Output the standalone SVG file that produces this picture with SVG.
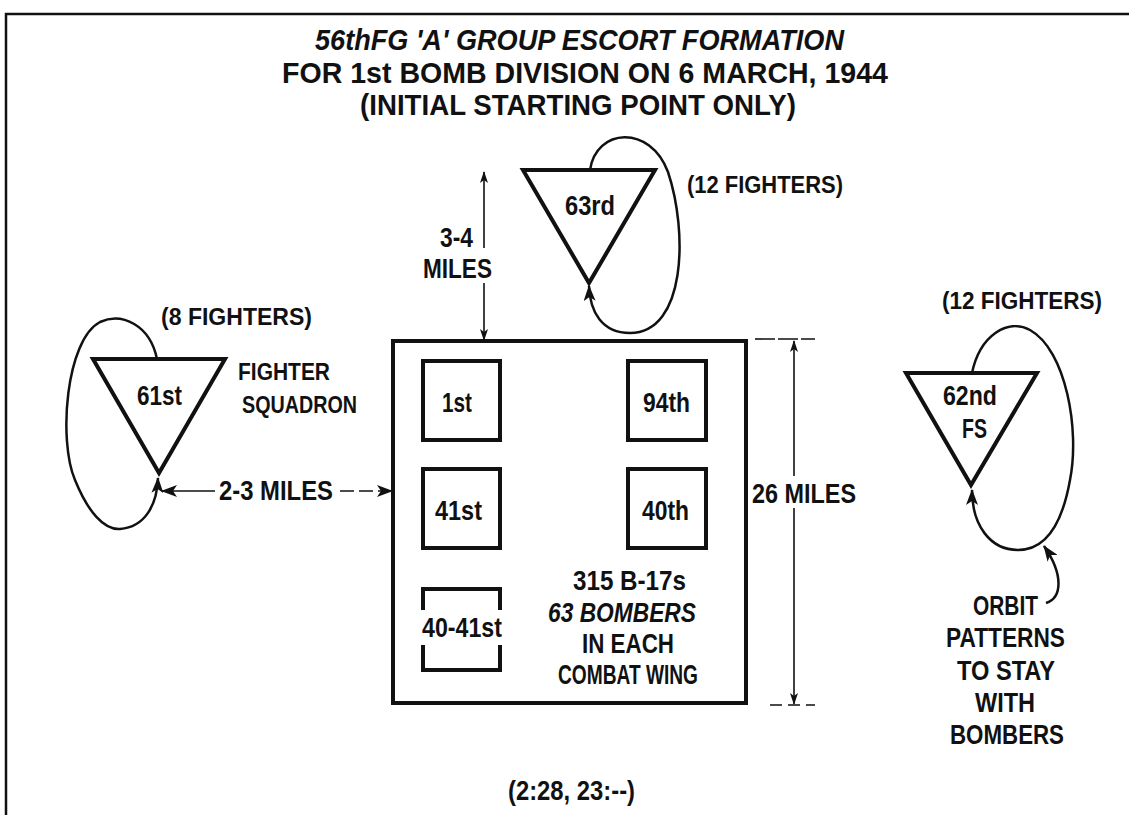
<svg xmlns="http://www.w3.org/2000/svg" width="1129" height="815" viewBox="0 0 1129 815">
<style>
text{font-family:"Liberation Sans Narrow","Liberation Sans",Arial,sans-serif;font-weight:700;fill:#111}
.t{font-size:30px}
.l{font-size:27px}
.s{font-size:24px}
.thick{fill:none;stroke:#111;stroke-width:4;stroke-linejoin:miter}
.loop{fill:none;stroke:#111;stroke-width:2.5}
.dim{fill:none;stroke:#111;stroke-width:1.6}
</style>
<defs>
<marker id="ah" markerUnits="userSpaceOnUse" markerWidth="16" markerHeight="12" refX="15" refY="6" orient="auto">
<path d="M0,0 L16,6 L0,12 L4,6 z" fill="#111"/>
</marker>
<marker id="sm" markerUnits="userSpaceOnUse" markerWidth="12" markerHeight="8" refX="11" refY="4" orient="auto">
<path d="M0,0 L12,4 L0,8 L3,4 z" fill="#111"/>
</marker>
</defs>
<rect width="1129" height="815" fill="#fff"/>
<path d="M6,815 L6,14 L1129,14" fill="none" stroke="#111" stroke-width="2.5"/>

<g id="title">
<text class="t" x="315" y="50" textLength="529" lengthAdjust="spacingAndGlyphs" font-style="italic">56thFG 'A' GROUP ESCORT FORMATION</text>
<text class="t" x="282" y="83" textLength="606" lengthAdjust="spacingAndGlyphs">FOR 1st BOMB DIVISION ON 6 MARCH, 1944</text>
<text class="t" x="360" y="115" textLength="436" lengthAdjust="spacingAndGlyphs">(INITIAL STARTING POINT ONLY)</text>
</g>

<g id="connectors">
<path class="loop" d="M590,170 C596,128 650,124 668,172 C688,232 686,333 630,333 C602,333 590,312 589,286" marker-end="url(#ah)"/>
<path class="loop" d="M157,359 C150,325 122,312 100,322 C66,340 58,440 75,480 C88,512 104,530 120,529 C145,527 157,505 158,478" marker-end="url(#ah)"/>
<path class="loop" d="M972,373 C980,335 1008,318 1030,330 C1066,350 1080,430 1070,480 C1062,525 1045,550 1018,550 C990,550 972,525 972,490" marker-end="url(#ah)"/>
<path class="loop" d="M1046,603 C1062,598 1064,575 1044,546" marker-end="url(#ah)"/>
<path class="dim" d="M215,491 L162,491" marker-end="url(#ah)"/>
<path class="dim" d="M340,491 L392,491" stroke-dasharray="14,5" marker-end="url(#ah)"/>
<path class="dim" d="M484,248 L484,172" marker-end="url(#sm)"/>
<path class="dim" d="M484,283 L484,340" marker-end="url(#sm)"/>
<path class="dim" d="M794,476 L794,341" marker-end="url(#sm)"/>
<path class="dim" d="M794,508 L794,704" marker-end="url(#sm)"/>
<path class="dim" d="M755,339 L815,339" stroke-dasharray="20,3"/>
<path class="dim" d="M770,705 L815,705" stroke-dasharray="12,6"/>
</g>

<g id="sq63">
<path class="thick" d="M523,170 L655,170 L589,283 z"/>
<text class="l" x="565" y="215" textLength="50" lengthAdjust="spacingAndGlyphs">63rd</text>
<text class="s" x="687" y="193" textLength="156" lengthAdjust="spacingAndGlyphs">(12 FIGHTERS)</text>
</g>

<g id="dist34">
<text class="l" x="440" y="247" textLength="33" lengthAdjust="spacingAndGlyphs">3-4</text>
<text class="l" x="423" y="278" textLength="69" lengthAdjust="spacingAndGlyphs">MILES</text>
</g>

<g id="sq61">
<path class="thick" d="M93,359 L225,359 L159,473 z"/>
<text class="l" x="137" y="405" textLength="45" lengthAdjust="spacingAndGlyphs">61st</text>
<text class="s" x="161" y="325" textLength="151" lengthAdjust="spacingAndGlyphs">(8 FIGHTERS)</text>
<text class="s" x="238" y="380" textLength="92" lengthAdjust="spacingAndGlyphs">FIGHTER</text>
<text class="s" x="242" y="413" textLength="115" lengthAdjust="spacingAndGlyphs">SQUADRON</text>
</g>

<g id="dist23">
<text class="l" x="219" y="500" textLength="114" lengthAdjust="spacingAndGlyphs">2-3 MILES</text>
</g>

<g id="bombers">
<rect class="thick" x="393" y="341" width="353" height="362"/>
<text class="l" x="573" y="590" textLength="113" lengthAdjust="spacingAndGlyphs">315 B-17s</text>
<text class="l" x="548" y="622" textLength="148" lengthAdjust="spacingAndGlyphs" font-style="italic">63 BOMBERS</text>
<text class="l" x="582" y="653" textLength="92" lengthAdjust="spacingAndGlyphs">IN EACH</text>
<text class="l" x="558" y="684" textLength="140" lengthAdjust="spacingAndGlyphs">COMBAT WING</text>
</g>

<g id="w1st">
<rect class="thick" x="423" y="361" width="77" height="79"/>
<text class="l" x="442" y="412" textLength="30" lengthAdjust="spacingAndGlyphs">1st</text>
</g>
<g id="w94th">
<rect class="thick" x="628" y="361" width="78" height="79"/>
<text class="l" x="643" y="412" textLength="47" lengthAdjust="spacingAndGlyphs">94th</text>
</g>
<g id="w41st">
<rect class="thick" x="423" y="469" width="77" height="79"/>
<text class="l" x="435" y="520" textLength="47" lengthAdjust="spacingAndGlyphs">41st</text>
</g>
<g id="w40th">
<rect class="thick" x="628" y="469" width="78" height="79"/>
<text class="l" x="642" y="520" textLength="47" lengthAdjust="spacingAndGlyphs">40th</text>
</g>
<g id="w4041st">
<path class="thick" d="M423,610 L423,589 L500,589 L500,610 M423,645 L423,670 L500,670 L500,645"/>
<text class="l" x="422" y="637" textLength="80" lengthAdjust="spacingAndGlyphs">40-41st</text>
</g>

<g id="dist26">
<text class="l" x="752" y="503" textLength="104" lengthAdjust="spacingAndGlyphs">26 MILES</text>
</g>

<g id="sq62">
<path class="thick" d="M906,373 L1037,373 L971,485 z"/>
<text class="l" x="943" y="405" textLength="54" lengthAdjust="spacingAndGlyphs">62nd</text>
<text class="l" x="962" y="438" textLength="25" lengthAdjust="spacingAndGlyphs">FS</text>
<text class="s" x="942" y="309" textLength="160" lengthAdjust="spacingAndGlyphs">(12 FIGHTERS)</text>
</g>

<g id="orbit-note">
<text class="l" x="973" y="615" textLength="65" lengthAdjust="spacingAndGlyphs">ORBIT</text>
<text class="l" x="946" y="647" textLength="119" lengthAdjust="spacingAndGlyphs">PATTERNS</text>
<text class="l" x="957" y="680" textLength="98" lengthAdjust="spacingAndGlyphs">TO STAY</text>
<text class="l" x="975" y="712" textLength="60" lengthAdjust="spacingAndGlyphs">WITH</text>
<text class="l" x="950" y="744" textLength="114" lengthAdjust="spacingAndGlyphs">BOMBERS</text>
</g>

<g id="source">
<text class="l" x="508" y="800" textLength="127" lengthAdjust="spacingAndGlyphs">(2:28, 23:--)</text>
</g>
</svg>
